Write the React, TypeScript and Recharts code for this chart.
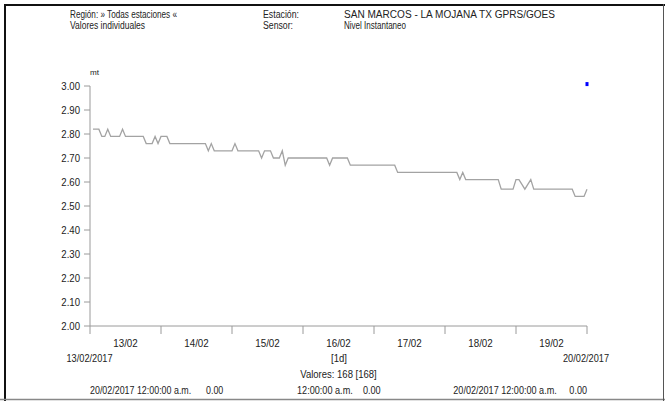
import React from 'react';
import { LineChart, Line, XAxis, YAxis, ReferenceDot } from 'recharts';

// hourly level readings (mt), one array per day, hour 1..24
const day13 = [2.82, 2.82, 2.82, 2.79, 2.79, 2.82, 2.79, 2.79, 2.79, 2.79, 2.82, 2.79, 2.79, 2.79, 2.79, 2.79, 2.79, 2.79, 2.76, 2.76, 2.76, 2.79, 2.76, 2.79];
const day14 = [2.79, 2.79, 2.76, 2.76, 2.76, 2.76, 2.76, 2.76, 2.76, 2.76, 2.76, 2.76, 2.76, 2.76, 2.76, 2.73, 2.76, 2.73, 2.73, 2.73, 2.73, 2.73, 2.73, 2.73];
const day15 = [2.76, 2.73, 2.73, 2.73, 2.73, 2.73, 2.73, 2.73, 2.73, 2.70, 2.73, 2.73, 2.73, 2.70, 2.70, 2.70, 2.73, 2.67, 2.70, 2.70, 2.70, 2.70, 2.70, 2.70];
const day16 = [2.70, 2.70, 2.70, 2.70, 2.70, 2.70, 2.70, 2.70, 2.67, 2.70, 2.70, 2.70, 2.70, 2.70, 2.70, 2.67, 2.67, 2.67, 2.67, 2.67, 2.67, 2.67, 2.67, 2.67];
const day17 = [2.67, 2.67, 2.67, 2.67, 2.67, 2.67, 2.67, 2.64, 2.64, 2.64, 2.64, 2.64, 2.64, 2.64, 2.64, 2.64, 2.64, 2.64, 2.64, 2.64, 2.64, 2.64, 2.64, 2.64];
const day18 = [2.64, 2.64, 2.64, 2.64, 2.61, 2.64, 2.61, 2.61, 2.61, 2.61, 2.61, 2.61, 2.61, 2.61, 2.61, 2.61, 2.61, 2.61, 2.57, 2.57, 2.57, 2.57, 2.57, 2.61];
const day19 = [2.61, 2.59, 2.57, 2.59, 2.61, 2.57, 2.57, 2.57, 2.57, 2.57, 2.57, 2.57, 2.57, 2.57, 2.57, 2.57, 2.57, 2.57, 2.57, 2.54, 2.54, 2.54, 2.54, 2.57];

const dayLabels = ['13/02', '14/02', '15/02', '16/02', '17/02', '18/02', '19/02'];
const dayTicks = [0, 24, 48, 72, 96, 120, 144, 168];
const yTicks = [2.0, 2.1, 2.2, 2.3, 2.4, 2.5, 2.6, 2.7, 2.8, 2.9, 3.0];
const marker = { hour: 168, value: 3.008 };

const values = [...day13, ...day14, ...day15, ...day16, ...day17, ...day18, ...day19];
const data = values.map((v, i) => ({ hour: i + 1, nivel: v }));

// no Arial Narrow here, so text gets squeezed to the reference widths
const FONT = '"Liberation Sans", Arial, sans-serif';
const TXT = '#222';
const AXIS = '#9a9a9a';

const DayTick = (props: any) => {
  const { x, y, index } = props;
  const label = dayLabels[index];
  if (!label) return null;
  const half = (587 - 90) / 7 / 2;
  return (
    <text x={x + half} y={y + 10.5} textAnchor="middle" fontSize={10.5} fill={TXT} fontFamily={FONT}
      textLength={24.5} lengthAdjust="spacingAndGlyphs">
      {label}
    </text>
  );
};

const LevelTick = (props: any) => {
  const { x, y, payload } = props;
  return (
    <text x={x} y={y + 4} textAnchor="end" fontSize={10.5} fill={TXT} fontFamily={FONT}
      textLength={18.7} lengthAdjust="spacingAndGlyphs">
      {Number(payload.value).toFixed(2)}
    </text>
  );
};

const Marker = (props: any) => (
  <rect x={props.cx - 1.5} y={props.cy - 2} width={3} height={4} fill="#0000ff" />
);

export default function App() {
  const t = (x: number, y: number, s: string, w: number, anchor: 'start' | 'middle' | 'end' = 'start', size = 10.5) => (
    <text x={x} y={y} textAnchor={anchor} fontSize={size} fill={TXT} fontFamily={FONT}
      textLength={w} lengthAdjust="spacingAndGlyphs" style={{ whiteSpace: 'pre' }}>{s}</text>
  );
  return (
    <div style={{ position: 'absolute', left: 0, top: 0, width: 665, height: 401, background: '#fff' }}>
      <LineChart
        width={665}
        height={401}
        data={data}
        margin={{ top: 86, right: 78, bottom: 45, left: 0 }}
      >
        <XAxis
          dataKey="hour"
          type="number"
          domain={[0, 168]}
          ticks={dayTicks}
          interval={0}
          height={30}
          stroke={AXIS}
          tickSize={8}
          tickMargin={2}
          tick={<DayTick />}
        />
        <YAxis
          type="number"
          domain={[2, 3]}
          ticks={yTicks}
          interval={0}
          width={90}
          stroke={AXIS}
          tickSize={6}
          tickMargin={4}
          allowDataOverflow
          tick={<LevelTick />}
        />
        <Line
          type="linear"
          dataKey="nivel"
          stroke="#a3a3a3"
          strokeWidth={1.3}
          dot={false}
          isAnimationActive={false}
        />
        <ReferenceDot x={marker.hour} y={marker.value} ifOverflow="visible" shape={<Marker />} />
      </LineChart>
      <svg width={665} height={401} style={{ position: 'absolute', left: 0, top: 0, pointerEvents: 'none' }}>
        <line x1={5} y1={4} x2={5} y2={401} stroke="#111" strokeWidth={2} />
        <line x1={4} y1={5} x2={665} y2={5} stroke="#111" strokeWidth={2} />
        <line x1={0} y1={399.5} x2={665} y2={399.5} stroke="#888" strokeWidth={1.5} />
        <line x1={663.5} y1={4} x2={663.5} y2={401} stroke="#555" strokeWidth={1} />
        {t(70, 18, 'Región: » Todas estaciones «', 107, 'start', 10)}
        {t(70, 29, 'Valores individuales', 75, 'start', 10)}
        {t(263, 18, 'Estación:', 36, 'start', 10)}
        {t(263, 29, 'Sensor:', 30, 'start', 10)}
        {t(344, 18, 'SAN MARCOS - LA MOJANA TX GPRS/GOES', 211, 'start', 10)}
        {t(344, 29, 'Nivel Instantaneo', 62, 'start', 10)}
        {t(90, 75, 'mt', 9, 'start', 8)}
        {t(66.5, 362, '13/02/2017', 46)}
        {t(563, 362, '20/02/2017', 46)}
        {t(339, 362, '[1d]', 16, 'middle')}
        {t(338.5, 377.5, 'Valores: 168 [168]', 76.5, 'middle')}
        {t(90, 394, '20/02/2017 12:00:00 a.m.      0.00', 133.3)}
        {t(297, 394, '12:00:00 a.m.    0.00', 83.7)}
        {t(453.3, 394, '20/02/2017 12:00:00 a.m.     0.00', 133.7)}
      </svg>
    </div>
  );
}
